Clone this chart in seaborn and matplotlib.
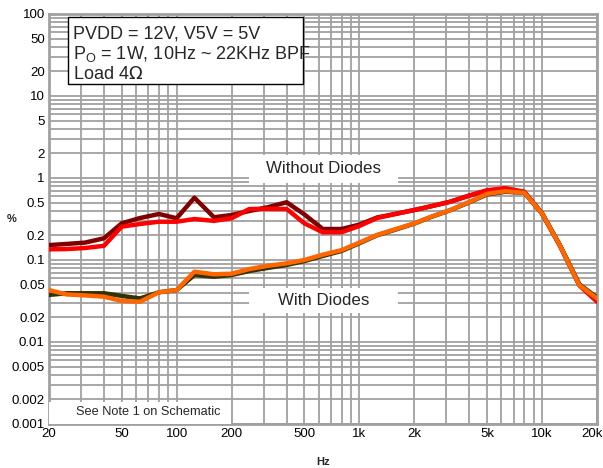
import numpy as np
import pandas as pd
import seaborn as sns
import matplotlib
matplotlib.use("Agg")
import matplotlib.pyplot as plt
import matplotlib.transforms as mtransforms
from matplotlib.patches import Rectangle
from matplotlib.ticker import FixedLocator, NullFormatter, LogLocator

freq = [20, 25, 31.5, 40, 50, 63, 80, 100, 125, 160, 200, 250, 315, 400, 500, 630, 800,
        1000, 1250, 1600, 2000, 2500, 3150, 4000, 5000, 6300, 8000, 10000, 12500, 16000, 20000]

without_ch1 = [0.152, 0.157, 0.163, 0.184, 0.28, 0.325, 0.364, 0.323, 0.575, 0.332, 0.354, 0.396, 0.44, 0.506,
               0.36, 0.239, 0.239, 0.27, 0.33, 0.367, 0.407, 0.455, 0.514, 0.61, 0.70, 0.74, 0.67, 0.37, 0.152, 0.05, 0.033]
without_ch2 = [0.135, 0.136, 0.14, 0.149, 0.255, 0.275, 0.293, 0.293, 0.316, 0.30, 0.323, 0.419, 0.42, 0.419,
               0.28, 0.218, 0.218, 0.26, 0.325, 0.367, 0.407, 0.455, 0.514, 0.61, 0.71, 0.75, 0.68, 0.37, 0.152, 0.049, 0.031]
with_ch1 = [0.0375, 0.0393, 0.0393, 0.0393, 0.0365, 0.034, 0.0404, 0.043, 0.0656, 0.0625, 0.0656, 0.0734, 0.08, 0.087,
            0.097, 0.112, 0.129, 0.16, 0.2, 0.237, 0.278, 0.338, 0.405, 0.505, 0.63, 0.68, 0.66, 0.37, 0.152, 0.0505, 0.035]
with_ch2 = [0.043, 0.038, 0.037, 0.0357, 0.0316, 0.031, 0.0404, 0.043, 0.072, 0.067, 0.068, 0.0776, 0.085, 0.091,
            0.10, 0.116, 0.132, 0.163, 0.202, 0.24, 0.28, 0.34, 0.407, 0.51, 0.64, 0.69, 0.66, 0.37, 0.152, 0.0495, 0.034]

series_names = ["without_ch1", "without_ch2", "with_ch1", "with_ch2"]
series_colors = ["#800000", "#ff0000", "#333300", "#ff6600"]

x_ticks = [20, 50, 100, 200, 500, 1000, 2000, 5000, 10000, 20000]
x_labels = ["20", "50", "100", "200", "500", "1k", "2k", "5k", "10k", "20k"]
y_ticks = [0.001, 0.002, 0.005, 0.01, 0.02, 0.05, 0.1, 0.2, 0.5, 1, 2, 5, 10, 20, 50, 100]
y_labels = ["0.001", "0.002", "0.005", "0.01", "0.02", "0.05", "0.1", "0.2", "0.5", "1", "2", "5", "10", "20", "50", "100"]

df = pd.DataFrame({
    "Hz": freq * 4,
    "val": without_ch1 + without_ch2 + with_ch1 + with_ch2,
    "series": sum([[n] * len(freq) for n in series_names], []),
})

sns.set_style("white")
plt.rcParams["font.family"] = ["Liberation Sans", "DejaVu Sans"]

fig = plt.figure(figsize=(6.03, 4.68), dpi=100)
ax = fig.add_axes([49 / 603, 1 - 424 / 468, (597 - 49) / 603, (424 - 14) / 468])

sns.lineplot(data=df, x="Hz", y="val", hue="series", hue_order=series_names,
             palette=series_colors, linewidth=3.2, ax=ax, legend=False, zorder=5,
             estimator=None, sort=False)

ax.set_xscale("log")
ax.set_yscale("log")
ax.set_xlim(20, 20000)
ax.set_ylim(0.001, 100)

ax.xaxis.set_major_locator(FixedLocator(x_ticks))
ax.set_xticklabels(x_labels)
ax.xaxis.set_minor_locator(LogLocator(base=10, subs=np.arange(1, 10)))
ax.xaxis.set_minor_formatter(NullFormatter())
ax.yaxis.set_major_locator(FixedLocator(y_ticks))
ax.set_yticklabels(y_labels)
ax.yaxis.set_minor_locator(LogLocator(base=10, subs=np.arange(1, 10), numticks=20))
ax.yaxis.set_minor_formatter(NullFormatter())

ax.grid(True, which="both", color="#a0a0a0", linewidth=1.3)
ax.set_axisbelow(True)
ax.tick_params(which="both", length=0, labelsize=9.5, colors="black", pad=3)
for s in ax.spines.values():
    s.set_color("#a0a0a0")
    s.set_linewidth(2)

# nudge last x label so it stays inside the canvas
lbl = ax.get_xticklabels()[-1]
lbl.set_transform(lbl.get_transform() + mtransforms.ScaledTranslation(-5 / 100, 0, fig.dpi_scale_trans))

ax.set_xlabel("Hz", fontsize=8, fontweight="bold", labelpad=12)
ax.set_ylabel("%", fontsize=8, fontweight="bold", rotation=0)
ax.yaxis.set_label_coords(-0.068, 0.487)

# white panels behind annotations
def panel(x0, y0, x1, y1, z):
    ax.add_patch(Rectangle((x0, y0), x1 - x0, y1 - y0, transform=ax.transAxes,
                           facecolor="white", edgecolor="none", zorder=z, clip_on=False))

panel(0.365, 0.588, 0.637, 0.656, 3)
panel(0.365, 0.271, 0.637, 0.332, 3)
panel(0.0, 0.0, 0.332, 0.054, 3)

ax.add_patch(Rectangle((0.0347, 0.829), 0.4635 - 0.0347, 0.9927 - 0.829, transform=ax.transAxes,
                       facecolor="white", edgecolor="black", linewidth=1.0, zorder=10))
ax.text(0.043, 0.972, "PVDD = 12V, V5V = 5V\nP$_\\mathregular{O}$ = 1W, 10Hz ~ 22KHz BPF\nLoad 4$\\Omega$",
        transform=ax.transAxes, fontsize=13, va="top", ha="left", linespacing=1.12, zorder=11)

ax.text(0.501, 0.622, "Without Diodes", transform=ax.transAxes, fontsize=12.2, ha="center", va="center", zorder=11)
ax.text(0.501, 0.302, "With Diodes", transform=ax.transAxes, fontsize=12.2, ha="center", va="center", zorder=11)
ax.text(0.181, 0.029, "See Note 1 on Schematic", transform=ax.transAxes, fontsize=9.2, ha="center", va="center", zorder=11)

fig.savefig("out.png", dpi=100)
